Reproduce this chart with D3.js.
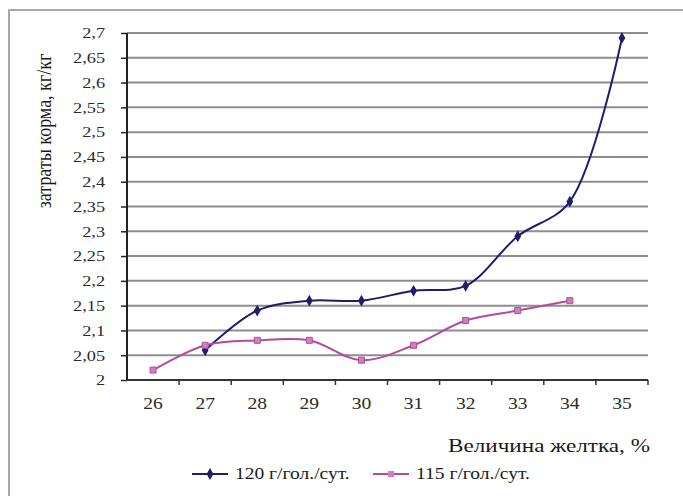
<!DOCTYPE html>
<html>
<head>
<meta charset="utf-8">
<script src="https://cdn.jsdelivr.net/npm/d3@7"></script>
<style>
  body { margin: 0; background: #fff; }
  svg { display: block; }
  text { font-family: "Liberation Serif", "DejaVu Serif", serif; fill: #1a1a1a; }
</style>
</head>
<body>
<div id="chart"></div>
<script>
    const categories = [26, 27, 28, 29, 30, 31, 32, 33, 34, 35];
    const yTicks = [2, 2.05, 2.1, 2.15, 2.2, 2.25, 2.3, 2.35, 2.4, 2.45, 2.5, 2.55, 2.6, 2.65, 2.7];
    const series120 = [null, 2.06, 2.14, 2.16, 2.16, 2.18, 2.19, 2.29, 2.36, 2.69];
    const series115 = [2.02, 2.07, 2.08, 2.08, 2.04, 2.07, 2.12, 2.14, 2.16, null];
    const seriesNames = ['120 г/гол./сут.', '115 г/гол./сут.'];
    const yTitle = 'затраты корма, кг/кг';
    const xTitle = 'Величина желтка, %';

    const width = 683, height = 496;
    const plot = { left: 127, right: 648, top: 33, bottom: 380 };
    const colors = ['#1e1e6a', '#b24c9c'];
    // the source picture is stretched sideways, so horizontal text is widened
    const stretch = 'scale(1.22,1)';

    const svg = d3.select('#chart').append('svg')
        .attr('width', width).attr('height', height);

    // outer frame (only top and left edges visible in the picture)
    svg.append('rect')
        .attr('x', 9).attr('y', 10)
        .attr('width', width + 20).attr('height', height + 20)
        .style('fill', 'none').style('stroke', '#a8a8a8').style('stroke-width', 2);

    const x = d3.scaleBand().domain(categories).range([plot.left, plot.right]);
    const y = d3.scaleLinear().domain([2, 2.7]).range([plot.bottom, plot.top]);
    const fmt = d => String(+d.toFixed(2)).replace('.', ',');

    // gridlines
    svg.append('g').selectAll('line')
        .data(yTicks.slice(1))
        .join('line')
        .attr('x1', plot.left).attr('x2', plot.right)
        .attr('y1', d => y(d)).attr('y2', d => y(d))
        .style('stroke', '#8e8e8e').style('stroke-width', 2);

    // y axis
    const yAxis = svg.append('g')
        .attr('transform', `translate(${plot.left},0)`)
        .call(d3.axisLeft(y).tickValues(yTicks).tickFormat(fmt).tickSize(6).tickPadding(12));
    yAxis.select('.domain').style('stroke', '#222').style('stroke-width', 2)
        .attr('d', `M0,${plot.top}V${plot.bottom}`);
    yAxis.selectAll('.tick line').style('stroke', '#222').style('stroke-width', 1.5);
    yAxis.selectAll('.tick text')
        .attr('transform', stretch)
        .style('font-size', '15px').style('fill', '#2a2a2a').style('font-family', '"Liberation Serif", serif');

    // x axis
    const xAxis = svg.append('g')
        .attr('transform', `translate(0,${plot.bottom})`)
        .call(d3.axisBottom(x).tickSize(0).tickPadding(18));
    xAxis.select('.domain').style('stroke', '#333').style('stroke-width', 2)
        .attr('d', `M${plot.left},0H${plot.right}`);
    xAxis.selectAll('.tick text')
        .attr('transform', stretch)
        .style('font-size', '16px').style('fill', '#2a2a2a').style('font-family', '"Liberation Serif", serif');
    xAxis.append('g').selectAll('line')
        .data(categories.slice(1).concat(['end']))
        .join('line')
        .attr('x1', d => d === 'end' ? plot.right : x(d))
        .attr('x2', d => d === 'end' ? plot.right : x(d))
        .attr('y1', 0).attr('y2', 5)
        .style('stroke', '#333').style('stroke-width', 1.5);

    // lines
    const allSeries = [series120, series115];
    allSeries.forEach((vals, i) => {
        const pts = categories.map((c, j) => ({ c, v: vals[j] })).filter(p => p.v !== null);
        const line = d3.line()
            .x(p => x(p.c) + x.bandwidth() / 2)
            .y(p => y(p.v))
            .curve(d3.curveCatmullRom.alpha(0.5));
        svg.append('path')
            .datum(pts)
            .attr('d', line)
            .style('fill', 'none').style('stroke', colors[i]).style('stroke-width', 2);

        const marks = svg.append('g').selectAll('path')
            .data(pts)
            .join('path')
            .attr('transform', p => `translate(${x(p.c) + x.bandwidth() / 2},${y(p.v)})`);
        if (i === 0) {
            marks.attr('d', d3.symbol(d3.symbolDiamond, 40))
                .style('fill', colors[0]);
        } else {
            marks.attr('d', d3.symbol(d3.symbolSquare, 36))
                .style('fill', '#d080bb').style('stroke', colors[1]).style('stroke-width', 1);
        }
    });

    // axis titles
    svg.append('text')
        .attr('transform', `translate(51,131) rotate(-90) scale(1,1.22)`)
        .attr('text-anchor', 'middle')
        .style('font-size', '18px')
        .text(yTitle);

    svg.append('text')
        .attr('transform', `translate(650,452) ${stretch}`)
        .attr('text-anchor', 'end')
        .style('font-size', '19px')
        .text(xTitle);

    // legend
    const legend = svg.append('g');
    const legendX = [192, 373];
    seriesNames.forEach((name, i) => {
        const g = legend.append('g').attr('transform', `translate(${legendX[i]},474)`);
        g.append('line').attr('x1', 0).attr('x2', 36)
            .style('stroke', colors[i]).style('stroke-width', 2);
        g.append('path')
            .attr('transform', 'translate(18,0)')
            .attr('d', d3.symbol(i === 0 ? d3.symbolDiamond : d3.symbolSquare, i === 0 ? 40 : 36))
            .style('fill', i === 0 ? colors[0] : '#d080bb');
        g.append('text')
            .attr('transform', `translate(43,5) ${stretch}`)
            .style('font-size', '16px')
            .text(name);
    });
</script>
</body>
</html>
